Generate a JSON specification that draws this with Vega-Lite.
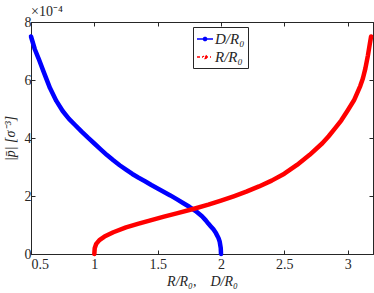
{
  "$schema": "https://vega.github.io/schema/vega-lite/v6.json",
  "width": 342,
  "height": 232,
  "autosize": {"type": "none"},
  "padding": {"left": 31, "top": 22, "right": 1, "bottom": 39},
  "background": "white",
  "title": {"text": "×10⁻⁴", "anchor": "start", "frame": "group", "font": "Times New Roman, Liberation Serif, serif", "fontSize": 14, "fontWeight": "normal", "offset": 2, "dy": 6, "color": "#262626"},
  "config": {
    "view": {"stroke": "#262626", "strokeWidth": 1},
    "axis": {"domainColor": "#262626", "tickColor": "#262626", "labelColor": "#262626", "titleColor": "#262626", "labelFont": "Times New Roman, Liberation Serif, serif", "titleFont": "Times New Roman, Liberation Serif, serif", "labelFontSize": 14, "titleFontSize": 14, "titleFontWeight": "normal", "grid": false, "tickSize": -4}
  },
  "datasets": {
    "curves": [
      {"series": "D/R₀", "x": 0.50, "p": 7.50},
      {"series": "D/R₀", "x": 0.53, "p": 7.06},
      {"series": "D/R₀", "x": 0.56, "p": 6.74},
      {"series": "D/R₀", "x": 0.60, "p": 6.28},
      {"series": "D/R₀", "x": 0.65, "p": 5.72},
      {"series": "D/R₀", "x": 0.70, "p": 5.28},
      {"series": "D/R₀", "x": 0.75, "p": 4.93},
      {"series": "D/R₀", "x": 0.80, "p": 4.66},
      {"series": "D/R₀", "x": 0.85, "p": 4.44},
      {"series": "D/R₀", "x": 0.90, "p": 4.22},
      {"series": "D/R₀", "x": 0.95, "p": 4.01},
      {"series": "D/R₀", "x": 1.00, "p": 3.81},
      {"series": "D/R₀", "x": 1.05, "p": 3.61},
      {"series": "D/R₀", "x": 1.10, "p": 3.41},
      {"series": "D/R₀", "x": 1.15, "p": 3.23},
      {"series": "D/R₀", "x": 1.20, "p": 3.06},
      {"series": "D/R₀", "x": 1.25, "p": 2.91},
      {"series": "D/R₀", "x": 1.30, "p": 2.76},
      {"series": "D/R₀", "x": 1.35, "p": 2.63},
      {"series": "D/R₀", "x": 1.40, "p": 2.51},
      {"series": "D/R₀", "x": 1.45, "p": 2.38},
      {"series": "D/R₀", "x": 1.50, "p": 2.26},
      {"series": "D/R₀", "x": 1.55, "p": 2.14},
      {"series": "D/R₀", "x": 1.60, "p": 2.02},
      {"series": "D/R₀", "x": 1.65, "p": 1.89},
      {"series": "D/R₀", "x": 1.70, "p": 1.76},
      {"series": "D/R₀", "x": 1.75, "p": 1.63},
      {"series": "D/R₀", "x": 1.80, "p": 1.48},
      {"series": "D/R₀", "x": 1.85, "p": 1.30},
      {"series": "D/R₀", "x": 1.88, "p": 1.16},
      {"series": "D/R₀", "x": 1.90, "p": 1.05},
      {"series": "D/R₀", "x": 1.92, "p": 0.95},
      {"series": "D/R₀", "x": 1.94, "p": 0.85},
      {"series": "D/R₀", "x": 1.96, "p": 0.72},
      {"series": "D/R₀", "x": 1.98, "p": 0.55},
      {"series": "D/R₀", "x": 1.99, "p": 0.42},
      {"series": "D/R₀", "x": 1.998, "p": 0.20},
      {"series": "D/R₀", "x": 2.00, "p": 0.00},
      {"series": "R/R₀", "x": 1.000, "p": 0.00},
      {"series": "R/R₀", "x": 1.003, "p": 0.20},
      {"series": "R/R₀", "x": 1.015, "p": 0.35},
      {"series": "R/R₀", "x": 1.04, "p": 0.48},
      {"series": "R/R₀", "x": 1.08, "p": 0.60},
      {"series": "R/R₀", "x": 1.15, "p": 0.75},
      {"series": "R/R₀", "x": 1.25, "p": 0.92},
      {"series": "R/R₀", "x": 1.35, "p": 1.05},
      {"series": "R/R₀", "x": 1.45, "p": 1.17},
      {"series": "R/R₀", "x": 1.55, "p": 1.29},
      {"series": "R/R₀", "x": 1.65, "p": 1.40},
      {"series": "R/R₀", "x": 1.78, "p": 1.55},
      {"series": "R/R₀", "x": 1.90, "p": 1.70},
      {"series": "R/R₀", "x": 2.00, "p": 1.84},
      {"series": "R/R₀", "x": 2.10, "p": 1.99},
      {"series": "R/R₀", "x": 2.20, "p": 2.15},
      {"series": "R/R₀", "x": 2.30, "p": 2.33},
      {"series": "R/R₀", "x": 2.40, "p": 2.53},
      {"series": "R/R₀", "x": 2.50, "p": 2.77},
      {"series": "R/R₀", "x": 2.60, "p": 3.07},
      {"series": "R/R₀", "x": 2.70, "p": 3.42},
      {"series": "R/R₀", "x": 2.80, "p": 3.82},
      {"series": "R/R₀", "x": 2.85, "p": 4.06},
      {"series": "R/R₀", "x": 2.90, "p": 4.33},
      {"series": "R/R₀", "x": 2.95, "p": 4.61},
      {"series": "R/R₀", "x": 3.00, "p": 4.95},
      {"series": "R/R₀", "x": 3.05, "p": 5.30},
      {"series": "R/R₀", "x": 3.10, "p": 5.80},
      {"series": "R/R₀", "x": 3.12, "p": 6.05},
      {"series": "R/R₀", "x": 3.14, "p": 6.40},
      {"series": "R/R₀", "x": 3.16, "p": 6.85},
      {"series": "R/R₀", "x": 3.175, "p": 7.25},
      {"series": "R/R₀", "x": 3.185, "p": 7.50}
    ]
  },
  "data": {"name": "curves"},
  "layer": [
    {
      "mark": {"type": "line", "strokeWidth": 4.5, "strokeCap": "round", "strokeJoin": "round"},
      "encoding": {
        "x": {"field": "x", "type": "quantitative", "scale": {"domain": [0.5, 3.2], "nice": false, "zero": false},
              "axis": {"values": [0.5, 1, 1.5, 2, 2.5, 3], "format": "~g", "labelPadding": 7, "title": "R/R₀,\u00a0\u00a0\u00a0\u00a0D/R₀", "titleFontStyle": "italic", "titlePadding": 3}},
        "y": {"field": "p", "type": "quantitative", "scale": {"domain": [0, 8], "nice": false},
              "axis": {"values": [0, 2, 4, 6, 8], "labelPadding": 4, "title": "|p̄| [σ⁻³]", "titleFontStyle": "italic", "titlePadding": 7}},
        "color": {"field": "series", "type": "nominal", "scale": {"domain": ["D/R₀", "R/R₀"], "range": ["#0000ff", "#ff0000"]},
                  "legend": {"orient": "none", "legendX": 162, "legendY": 5, "title": null, "fillColor": "white", "strokeColor": "#262626", "padding": 3, "cornerRadius": 0,
                             "labelFont": "Times New Roman, Liberation Serif, serif", "labelFontStyle": "italic", "labelFontSize": 15, "labelColor": "#262626", "labelOffset": 1,
                             "symbolType": "M-1,0L1,0M0.2,0A0.2,0.2,0,1,1,-0.2,0A0.2,0.2,0,1,1,0.2,0Z", "symbolSize": 256, "symbolStrokeWidth": 1.5, "rowPadding": 1,
                             "encode": {"symbols": {"update": {"strokeDash": {"signal": "datum.value === 'R/R₀' ? [3,2,1,2] : [1,0]"}}}}}}
      }
    },
    {
      "mark": {"type": "point", "opacity": 0},
      "encoding": {
        "x": {"field": "x", "type": "quantitative", "axis": {"orient": "top", "values": [0.5, 1, 1.5, 2, 2.5, 3], "labels": false, "title": null}},
        "y": {"field": "p", "type": "quantitative", "axis": {"orient": "right", "values": [0, 2, 4, 6, 8], "labels": false, "title": null}}
      }
    }
  ],
  "resolve": {"axis": {"x": "independent", "y": "independent"}}
}
